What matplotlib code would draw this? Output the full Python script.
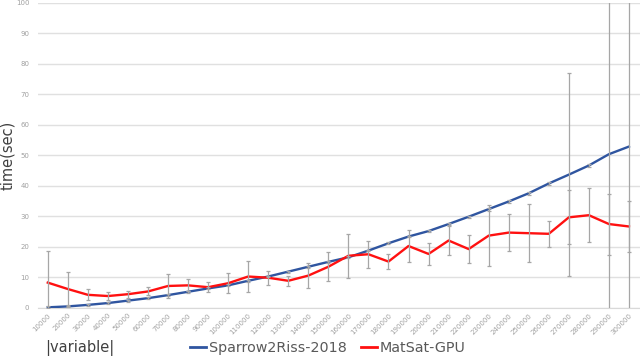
import numpy as np
import matplotlib.pyplot as plt
from matplotlib.lines import Line2D

# problem sizes (x categories)
sizes = [10000 * i for i in range(1, 31)]
labels = [str(s) for s in sizes]

# Sparrow2Riss-2018 mean time (sec) and error
sparrow = [0.2, 0.5, 1.0, 1.6, 2.4, 3.2, 4.2, 5.3, 6.4, 7.4,
           8.9, 10.3, 11.9, 13.5, 15.1, 16.6, 18.8, 21.2, 23.4, 25.2,
           27.5, 29.9, 32.4, 34.9, 37.6, 40.8, 43.7, 46.7, 50.4, 52.9]
sparrow_err = [0.3, 0.3, 0.3, 0.3, 0.3, 0.3, 0.3, 0.3, 0.3, 0.3,
               0.3, 0.3, 0.3, 0.3, 0.3, 0.3, 0.3, 0.3, 0.3, 0.4,
               0.4, 0.4, 0.5, 0.5, 0.5, 0.5, 33.2, 0.5, 60.0, 60.0]

# MatSat-GPU mean time (sec) and error
matsat = [8.3, 6.2, 4.3, 3.9, 4.5, 5.4, 7.2, 7.4, 6.8, 8.1,
          10.3, 9.9, 8.9, 10.6, 13.5, 17.1, 17.6, 15.2, 20.3, 17.7,
          22.1, 19.3, 23.7, 24.7, 24.5, 24.3, 29.7, 30.4, 27.5, 26.7]
matsat_err = [10.4, 5.7, 1.8, 1.2, 1.2, 1.3, 3.9, 2.0, 1.6, 3.3,
              5.2, 2.3, 1.6, 4.1, 4.7, 7.2, 4.5, 2.5, 5.4, 3.7,
              4.8, 4.6, 10.0, 6.2, 9.5, 4.2, 8.8, 8.9, 10.0, 8.5]

BLUE = '#2f55a0'
RED = '#ff1010'
GREY = '#a6a6a6'

fig = plt.figure(figsize=(6.4, 3.61), dpi=100)
ax = fig.add_axes([0.059, 0.147, 0.941, 0.845])

x = np.arange(len(sizes))
ax.plot(x, sparrow, color=BLUE, lw=1.7, zorder=3)
ax.plot(x, matsat, color=RED, lw=1.7, zorder=3)
ax.errorbar(x, sparrow, yerr=sparrow_err, fmt='none', ecolor=GREY,
            elinewidth=0.9, capsize=1.5, capthick=0.9, zorder=4)
ax.errorbar(x, matsat, yerr=matsat_err, fmt='none', ecolor=GREY,
            elinewidth=0.9, capsize=1.5, capthick=0.9, zorder=4)

ax.set_xlim(-0.5, 29.55)
ax.set_ylim(0, 100)
ax.set_yticks(range(0, 101, 10))
ax.set_xticks(x)
ax.set_xticklabels(labels, rotation=45, ha='right', rotation_mode='anchor',
                   fontsize=5, color='#a0a0a0')
ax.tick_params(axis='y', labelsize=5, labelcolor='#a0a0a0', length=0, pad=6)
ax.tick_params(axis='x', length=0, pad=3)
ax.grid(axis='y', color='#e0e0e0', lw=1)
ax.set_axisbelow(True)
for s in ['top', 'right', 'left']:
    ax.spines[s].set_visible(False)
ax.spines['bottom'].set_color('#d9d9d9')

fig.text(0.0125, 0.57, 'time(sec)', rotation=90, va='center', ha='center',
         fontsize=10.5, color='#404040')
fig.text(0.07, 0.036, '|variable|', va='center', ha='left',
         fontsize=10.5, color='#404040')

handles = [Line2D([0], [0], color=BLUE, lw=2),
           Line2D([0], [0], color=RED, lw=2)]
fig.legend(handles, ['Sparrow2Riss-2018', 'MatSat-GPU'], loc='center left',
           bbox_to_anchor=(0.297, 0.036), ncol=2, frameon=False, fontsize=10.3,
           labelcolor='#595959', handlelength=1.1, handletextpad=0.2,
           columnspacing=1.0, borderpad=0, borderaxespad=0)

fig.savefig('out.png', dpi=100)
